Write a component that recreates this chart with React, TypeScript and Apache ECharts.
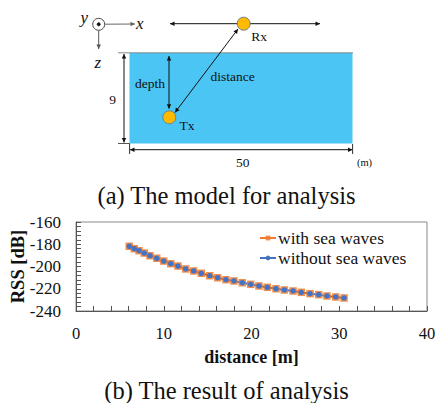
import React, { useEffect, useRef } from "react";
import * as echarts from "echarts";

const distances = [6.07, 6.64, 7.18, 7.78, 8.43, 9.2, 9.99, 10.8, 11.62, 12.5, 13.41, 14.28, 15.24, 16.15, 17.09, 18.0, 18.95, 19.91, 20.85, 21.8, 22.79, 23.74, 24.73, 25.67, 26.67, 27.66, 28.6, 29.6, 30.55];
const withWaves = [-181.8, -184.0, -185.8, -187.9, -190.3, -192.6, -195.1, -197.5, -199.6, -202.2, -204.0, -206.1, -208.3, -210.1, -211.9, -213.0, -214.6, -216.0, -217.5, -218.7, -220.0, -221.1, -222.0, -223.2, -224.4, -225.3, -226.5, -227.4, -228.3];
const withoutWaves = [-181.8, -184.0, -185.8, -187.9, -190.3, -192.6, -195.1, -197.5, -199.6, -202.2, -204.0, -206.1, -208.3, -210.1, -211.9, -213.0, -214.6, -216.0, -217.5, -218.7, -220.0, -221.1, -222.0, -223.2, -224.4, -225.3, -226.5, -227.4, -228.3];
const seriesNames = ["with sea waves", "without sea waves"];
const FONT = '"Liberation Serif", "Times New Roman", serif';

function head(x: number, y: number, fromX: number, fromY: number, color: string, size = 4.5) {
  const a = Math.atan2(y - fromY, x - fromX);
  const w = size * 0.5;
  const bx = x - Math.cos(a) * size;
  const by = y - Math.sin(a) * size;
  return {
    type: "polygon",
    shape: {
      points: [
        [x, y],
        [bx - Math.sin(a) * w, by + Math.cos(a) * w],
        [bx + Math.sin(a) * w, by - Math.cos(a) * w],
      ],
    },
    style: { fill: color },
  };
}

function line(x1: number, y1: number, x2: number, y2: number, color = "#111", lineWidth = 1) {
  return { type: "line", shape: { x1, y1, x2, y2 }, style: { stroke: color, lineWidth } };
}

function arrow(x1: number, y1: number, x2: number, y2: number, both = true, color = "#111", lineWidth = 1) {
  const parts: any[] = [line(x1, y1, x2, y2, color, lineWidth), head(x2, y2, x1, y1, color)];
  if (both) parts.push(head(x1, y1, x2, y2, color));
  return parts;
}

function label(text: string, x: number, y: number, fontSize = 13.5, fontStyle = "normal") {
  return {
    type: "text",
    x,
    y,
    style: { text, fontSize, fontStyle, fontFamily: FONT, fill: "#111", align: "center", verticalAlign: "middle" },
  };
}

function circle(cx: number, cy: number, r: number, fill: string, stroke: string) {
  return { type: "circle", shape: { cx, cy, r }, style: { fill, stroke, lineWidth: 1 } };
}

const diagram: any[] = [
  { type: "rect", shape: { x: 129.5, y: 53, width: 223, height: 90.5 }, style: { fill: "#4BC5F3" } },
  line(118, 52.8, 353, 52.8, "#7f8a90", 1),
  line(118, 143.5, 130, 143.5, "#555", 1),
  ...arrow(124, 54, 124, 142.5),
  ...arrow(130, 149.7, 352.5, 149.7),
  line(129.6, 144, 129.6, 154, "#333", 1),
  line(352.6, 144, 352.6, 154, "#333", 1),
  ...arrow(169, 56, 169, 108.7),
  ...arrow(175, 112.5, 238, 29),
  ...arrow(170, 23.7, 320, 23.7),
  circle(243.7, 23.7, 6.5, "#FFB900", "#6b8290"),
  circle(169.3, 117.3, 6.5, "#FFB900", "#6b8290"),
  circle(98.7, 24.3, 6, "#fff", "#444"),
  circle(98.7, 24.3, 1.5, "#111", "#111"),
  ...arrow(105, 24.2, 135, 24, false, "#666"),
  ...arrow(98.7, 30.5, 98.7, 49, false, "#555"),
  label("x", 139.7, 23, 17, "italic"),
  label("y", 84.3, 17, 17, "italic"),
  label("z", 97.7, 62, 17, "italic"),
  label("depth", 150, 83),
  label("distance", 232.7, 76),
  label("Tx", 187, 125.5),
  label("Rx", 259, 36),
  label("9", 112.7, 99),
  label("50", 242.7, 162),
  label("(m)", 364.5, 162, 10.5),
  label("(a) The model for analysis", 226.5, 195, 24.5),
  label("(b) The result of analysis", 226.5, 390, 24.5),
];

export default function App() {
  const ref = useRef<HTMLDivElement>(null);
  useEffect(() => {
    const chart = echarts.init(ref.current!, undefined, { renderer: "svg" });
    chart.setOption({
      animation: false,
      textStyle: { fontFamily: FONT },
      grid: { left: 76, top: 222, width: 351, height: 89, outerBoundsMode: "none", show: true, borderColor: "#8a8a8a", borderWidth: 1, backgroundColor: "#fff" },
      legend: {
        left: 259,
        top: 229,
        orient: "vertical",
        itemWidth: 16,
        itemHeight: 6,
        itemGap: 2,
        padding: 0,
        data: seriesNames,
        textStyle: { fontFamily: FONT, fontSize: 17.5, color: "#111", padding: [0, 0, 0, -3] },
      },
      xAxis: {
        type: "value",
        min: 0,
        max: 40,
        interval: 10,
        name: "distance [m]",
        nameLocation: "middle",
        nameGap: 37,
        nameMoveOverlap: false,
        nameTextStyle: { fontFamily: FONT, fontSize: 18, fontWeight: "bold", color: "#111" },
        axisLine: { onZero: false, lineStyle: { color: "#555", width: 1 } },
        axisTick: { inside: true, length: 5, lineStyle: { color: "#555" } },
        minorTick: { show: true, splitNumber: 5, length: 5, lineStyle: { color: "#555" } },
        axisLabel: { fontFamily: FONT, fontSize: 16.5, color: "#111", margin: 14 },
        splitLine: { show: false },
        minorSplitLine: { show: false },
      },
      yAxis: {
        type: "value",
        min: -240,
        max: -160,
        interval: 20,
        name: "RSS [dB]",
        nameLocation: "middle",
        nameGap: 49,
        nameMoveOverlap: false,
        nameTextStyle: { fontFamily: FONT, fontSize: 18.5, fontWeight: "bold", color: "#111" },
        axisLine: { onZero: false, show: true, lineStyle: { color: "#555", width: 1 } },
        axisTick: { show: true, inside: true, length: 5, lineStyle: { color: "#555" } },
        minorTick: { show: true, splitNumber: 5, length: 5, lineStyle: { color: "#555" } },
        axisLabel: { fontFamily: FONT, fontSize: 17, color: "#111", margin: 15 },
        splitLine: { show: false },
        minorSplitLine: { show: false },
      },
      series: [
        {
          name: seriesNames[0],
          type: "line",
          data: distances.map((d, i) => [d, withWaves[i]]),
          symbol: "rect",
          symbolSize: 7.5,
          lineStyle: { color: "#ED7D31", width: 2 },
          itemStyle: { color: "#ED7D31", opacity: 0.85 },
        },
        {
          name: seriesNames[1],
          type: "line",
          data: distances.map((d, i) => [d, withoutWaves[i]]),
          symbol: "circle",
          symbolSize: 5.5,
          lineStyle: { color: "#4472C4", width: 1.5 },
          itemStyle: { color: "#4472C4" },
        },
      ],
      graphic: { elements: diagram },
    });
    return () => chart.dispose();
  }, []);
  return <div ref={ref} style={{ position: "fixed", left: 0, top: 0, width: 436, height: 403, background: "#fff" }} />;
}
